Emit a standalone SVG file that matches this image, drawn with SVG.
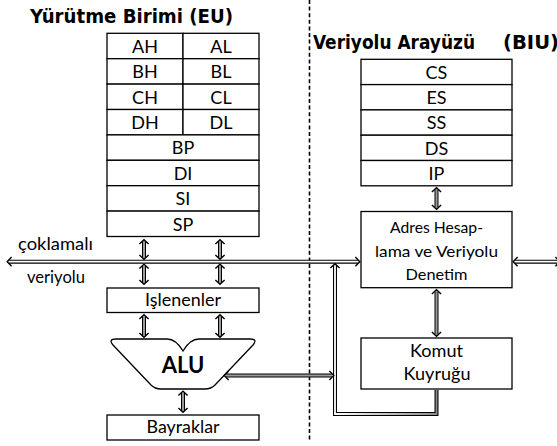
<svg xmlns="http://www.w3.org/2000/svg" width="557" height="446" viewBox="0 0 557 446">
<style>
.box{fill:#fff;stroke:#000;stroke-width:1.3}
.t{font-family:Lato,"Open Sans","DejaVu Sans",sans-serif;font-size:18px;fill:#000;text-anchor:middle}
.s{font-size:16px}
.title{font-family:"DejaVu Sans Condensed","DejaVu Sans",sans-serif;font-weight:bold;font-size:20px;fill:#000}
.alu{font-family:Lato,"DejaVu Sans",sans-serif;font-weight:bold;font-size:22px;text-anchor:middle}
.out{fill:none;stroke:#000;stroke-width:4}
.ing{fill:none;stroke:#9a9a9a;stroke-width:2}
.inw{fill:none;stroke:#fff;stroke-width:1.8}
.dash{stroke:#000;stroke-width:1.6;stroke-dasharray:4 2.6;fill:none}
</style>
<defs>
<marker id="ah" viewBox="-6 -6 12 12" refX="-1.2" refY="0" markerWidth="12" markerHeight="12" markerUnits="userSpaceOnUse" orient="auto-start-reverse">
<path d="M-3.8,-4.6 L0.6,0 L-3.8,4.6" fill="none" stroke="#000" stroke-width="1.4" stroke-linejoin="miter"/>
</marker>
<linearGradient id="lg" gradientUnits="userSpaceOnUse" x1="335" y1="0" x2="437" y2="0">
<stop offset="0" stop-color="#fff"/>
<stop offset="1" stop-color="#8a8a8a"/>
</linearGradient>
</defs>

<line class="dash" x1="309.5" y1="0" x2="309.5" y2="440"/>

<text class="title" x="30" y="22.5" textLength="203" lengthAdjust="spacingAndGlyphs">Yürütme Birimi (EU)</text>
<text class="title" y="48.5"><tspan x="313" textLength="162" lengthAdjust="spacingAndGlyphs">Veriyolu Arayüzü</tspan><tspan x="503" textLength="56" lengthAdjust="spacingAndGlyphs">(BIU)</tspan></text>

<g id="reg-AH"><rect class="box" x="107" y="33.3" width="76" height="25.4"/><text class="t" x="145" y="52.8">AH</text></g>
<g id="reg-AL"><rect class="box" x="183" y="33.3" width="76" height="25.4"/><text class="t" x="221" y="52.8">AL</text></g>
<g id="reg-BH"><rect class="box" x="107" y="58.7" width="76" height="25.4"/><text class="t" x="145" y="78.2">BH</text></g>
<g id="reg-BL"><rect class="box" x="183" y="58.7" width="76" height="25.4"/><text class="t" x="221" y="78.2">BL</text></g>
<g id="reg-CH"><rect class="box" x="107" y="84.1" width="76" height="25.4"/><text class="t" x="145" y="103.6">CH</text></g>
<g id="reg-CL"><rect class="box" x="183" y="84.1" width="76" height="25.4"/><text class="t" x="221" y="103.6">CL</text></g>
<g id="reg-DH"><rect class="box" x="107" y="109.5" width="76" height="25.4"/><text class="t" x="145" y="129">DH</text></g>
<g id="reg-DL"><rect class="box" x="183" y="109.5" width="76" height="25.4"/><text class="t" x="221" y="129">DL</text></g>
<g id="reg-BP"><rect class="box" x="107" y="134.9" width="152" height="25.4"/><text class="t" x="183" y="154.4">BP</text></g>
<g id="reg-DI"><rect class="box" x="107" y="160.3" width="152" height="25.4"/><text class="t" x="183" y="179.8">DI</text></g>
<g id="reg-SI"><rect class="box" x="107" y="185.7" width="152" height="25.4"/><text class="t" x="183" y="205.2">SI</text></g>
<g id="reg-SP"><rect class="box" x="107" y="211.1" width="152" height="25.4"/><text class="t" x="183" y="230.6">SP</text></g>

<g id="islenenler"><rect class="box" x="107" y="288" width="152" height="24.5"/><text class="t" x="183" y="306" textLength="76" lengthAdjust="spacingAndGlyphs">Işlenenler</text></g>

<g id="alu"><path class="box" d="M116,339 L167,339 Q176,339 183,351 Q190,339 199,339 L250,339 Q258,339 253,345 L215,385 Q211,389 205,389 L161,389 Q155,389 151,385 L113,345 Q108,339 116,339 Z"/><text class="alu" x="183" y="373">ALU</text></g>

<g id="bayraklar"><rect class="box" x="107" y="415" width="152" height="25"/><text class="t" x="183" y="433" textLength="73" lengthAdjust="spacingAndGlyphs">Bayraklar</text></g>

<g id="reg-CS"><rect class="box" x="361" y="59.3" width="151" height="25.3"/><text class="t" x="436.5" y="78.8">CS</text></g>
<g id="reg-ES"><rect class="box" x="361" y="84.6" width="151" height="25.3"/><text class="t" x="436.5" y="104.1">ES</text></g>
<g id="reg-SS"><rect class="box" x="361" y="109.9" width="151" height="25.3"/><text class="t" x="436.5" y="129.4">SS</text></g>
<g id="reg-DS"><rect class="box" x="361" y="135.2" width="151" height="25.3"/><text class="t" x="436.5" y="154.7">DS</text></g>
<g id="reg-IP"><rect class="box" x="361" y="160.5" width="151" height="25.3"/><text class="t" x="436.5" y="180">IP</text></g>

<g id="adres"><rect class="box" x="361" y="211.5" width="151" height="76.2"/>
<text class="t s" x="436.5" y="233" textLength="93" lengthAdjust="spacingAndGlyphs">Adres Hesap-</text>
<text class="t s" x="436.5" y="256.5" textLength="123" lengthAdjust="spacingAndGlyphs">lama ve Veriyolu</text>
<text class="t s" x="436.5" y="280" textLength="62" lengthAdjust="spacingAndGlyphs">Denetim</text></g>

<g id="komut"><rect class="box" x="361" y="338" width="151" height="51"/>
<text class="t" x="436.5" y="356.5" textLength="53" lengthAdjust="spacingAndGlyphs">Komut</text>
<text class="t" x="437" y="380" textLength="67" lengthAdjust="spacingAndGlyphs">Kuyruğu</text></g>

<g id="labels">
<text class="t" x="55.5" y="250" textLength="75" lengthAdjust="spacingAndGlyphs">çoklamalı</text>
<text class="t" x="56" y="283" textLength="58" lengthAdjust="spacingAndGlyphs">veriyolu</text>
</g>

<g id="connectors">
<path class="out" d="M9,261.7 H358" marker-start="url(#ah)" marker-end="url(#ah)"/>
<path class="inw" d="M9,261.7 H358"/>
<path class="out" d="M515,261.7 H558" marker-start="url(#ah)" marker-end="url(#ah)"/>
<path class="inw" d="M515,261.7 H558"/>
<path class="out" d="M436.5,390 V414 H335 V265.5" marker-end="url(#ah)"/>
<path d="M436.5,390 V414 H335 V265.5" fill="none" stroke="url(#lg)" stroke-width="1.8"/>
<path class="out" d="M226,375.5 H332" marker-start="url(#ah)" marker-end="url(#ah)"/>
<path class="ing" d="M226,375.5 H332"/>
<path class="out" d="M144,241.5 V257.5" marker-start="url(#ah)" marker-end="url(#ah)"/><path class="ing" d="M144,241.5 V257.5"/>
<path class="out" d="M220,241.5 V257.5" marker-start="url(#ah)" marker-end="url(#ah)"/><path class="ing" d="M220,241.5 V257.5"/>
<path class="out" d="M144,266 V282.5" marker-start="url(#ah)" marker-end="url(#ah)"/><path class="ing" d="M144,266 V282.5"/>
<path class="out" d="M220,266 V282.5" marker-start="url(#ah)" marker-end="url(#ah)"/><path class="ing" d="M220,266 V282.5"/>
<path class="out" d="M144,316.5 V335.5" marker-start="url(#ah)" marker-end="url(#ah)"/><path class="ing" d="M144,316.5 V335.5"/>
<path class="out" d="M220,316.5 V335.5" marker-start="url(#ah)" marker-end="url(#ah)"/><path class="ing" d="M220,316.5 V335.5"/>
<path class="out" d="M183,393 V410.5" marker-start="url(#ah)" marker-end="url(#ah)"/><path class="ing" d="M183,393 V410.5"/>
<path class="out" d="M436.5,189.5 V207.5" marker-start="url(#ah)" marker-end="url(#ah)"/><path class="ing" d="M436.5,189.5 V207.5"/>
<path class="out" d="M436.5,291.5 V334.5" marker-start="url(#ah)" marker-end="url(#ah)"/><path class="ing" d="M436.5,291.5 V334.5"/>
</g>
</svg>
